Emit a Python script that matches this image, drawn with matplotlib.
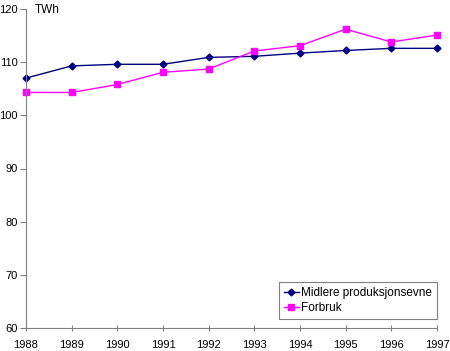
import matplotlib
matplotlib.use("Agg")
import matplotlib.pyplot as plt

years = [1988, 1989, 1990, 1991, 1992, 1993, 1994, 1995, 1996, 1997]
midlere = [107.0, 109.3, 109.6, 109.6, 110.9, 111.1, 111.7, 112.2, 112.6, 112.6]
forbruk = [104.3, 104.3, 105.8, 108.1, 108.7, 112.1, 113.1, 116.2, 113.8, 115.1]
yticks = [60, 70, 80, 90, 100, 110, 120]

NAVY = "#000080"
PINK = "#FF00FF"
AXIS = "#808080"

plt.rcParams["font.family"] = ["Liberation Sans", "DejaVu Sans"]

fig = plt.figure(figsize=(4.5, 3.51), dpi=100)
ax = fig.add_axes([26 / 450, 1 - 328 / 351, (437 - 26) / 450, 319 / 351])

ax.plot(years, midlere, color=NAVY, lw=1, marker="D", ms=3.5,
        label="Midlere produksjonsevne", clip_on=False)
ax.plot(years, forbruk, color=PINK, lw=1, marker="s", ms=4,
        label="Forbruk", clip_on=False)

ax.set_xlim(years[0], years[-1])
ax.set_ylim(60, 120)
ax.set_xticks(years)
ax.set_yticks(yticks)

for s in ["top", "right"]:
    ax.spines[s].set_visible(False)
for s in ["left", "bottom"]:
    ax.spines[s].set_color(AXIS)
    ax.spines[s].set_linewidth(0.8)

ax.tick_params(axis="y", direction="out", length=4, color=AXIS, labelsize=8, pad=2)
ax.tick_params(axis="x", direction="inout", length=5, color=AXIS, labelsize=8, pad=6.5)

ax.text(0.022, 0.997, "TWh", transform=ax.transAxes, fontsize=8.5, va="center", ha="left")

leg = ax.legend(loc="lower right", bbox_to_anchor=(1.0, 0.028), fontsize=8.5,
                frameon=True, fancybox=False, framealpha=1, edgecolor=AXIS,
                handlelength=1.3, handletextpad=0.2, borderpad=0.4, labelspacing=0.3,
                borderaxespad=0)
leg.get_frame().set_linewidth(0.8)

fig.savefig("out.png", dpi=100, facecolor="white")
plt.close(fig)
